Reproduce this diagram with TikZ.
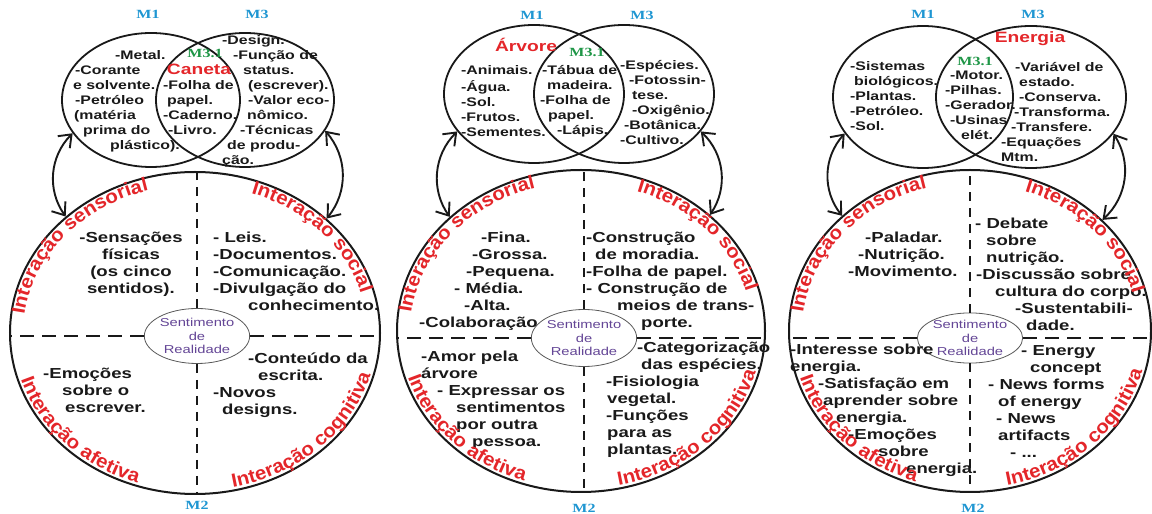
\documentclass[tikz,border=0pt]{standalone}
\usepackage{fontspec}
\setmainfont{Liberation Sans}[FakeStretch=1.28]
\newfontfamily\mserif{Liberation Serif}[FakeStretch=1.28]
\newfontfamily\curvefam{Liberation Sans}[FakeStretch=1.08]
\usetikzlibrary{shapes.geometric,arrows.meta,decorations.text}
\definecolor{lblred}{RGB}{228,38,42}
\definecolor{mblue}{RGB}{30,150,210}
\definecolor{mgreen}{RGB}{30,150,70}
\definecolor{purp}{RGB}{100,70,150}
\definecolor{ink}{RGB}{25,25,25}
\newcommand{\curvefont}{\curvefam\fontsize{19}{22}\selectfont\bfseries}
\newcommand{\qlabels}[6]{%
  \begin{scope}[shift={(#1,#2)}]
    \path[decorate,decoration={text along path,text align=left,text color=lblred,text={|\curvefont|Interação sensorial}}]
      (173:#3pt and #4pt) arc[start angle=173,end angle=30,x radius=#3pt,y radius=#4pt];
    \path[decorate,decoration={text along path,text align=left,text color=lblred,text={|\curvefont|Interação social}}]
      (71:#3pt and #4pt) arc[start angle=71,end angle=-70,x radius=#3pt,y radius=#4pt];
    \path[decorate,decoration={text along path,text align=left,text color=lblred,text={|\curvefont|Interação afetiva}}]
      (197:#5pt and #6pt) arc[start angle=197,end angle=330,x radius=#5pt,y radius=#6pt];
    \path[decorate,decoration={text along path,text align=left,text color=lblred,text={|\curvefont|Interação cognitiva}}]
      (282:#5pt and #6pt) arc[start angle=282,end angle=420,x radius=#5pt,y radius=#6pt];
  \end{scope}}
\begin{document}
\begin{tikzpicture}[x=1pt,y=1pt,
  venn/.style={ellipse, draw=ink, line width=1.8pt, inner sep=0pt},
  big/.style={ellipse, draw=ink, line width=2pt, inner sep=0pt},
  core/.style={ellipse, draw=black!65, line width=0.8pt, fill=white, inner sep=0pt, align=center, text=purp, font=\fontsize{11.5}{13.5}\selectfont},
  vtxt/.style={inner sep=0pt, anchor=north west, align=left, text=ink, font=\fontsize{12.4}{15}\selectfont\bfseries},
  btxt/.style={inner sep=0pt, anchor=north west, align=left, text=ink, font=\fontsize{14.5}{17}\selectfont\bfseries},
  mlab/.style={text=mblue, font=\mserif\fontsize{12.5}{14}\selectfont\bfseries, inner sep=0pt},
  mthree/.style={text=mgreen, font=\mserif\fontsize{12.5}{14}\selectfont\bfseries, inner sep=0pt},
  title/.style={text=lblred, font=\fontsize{15}{17}\selectfont\bfseries, inner sep=0pt},
  vdash/.style={draw=ink, line width=1.1pt, dash pattern=on 9pt off 7pt},
  hdash/.style={draw=ink, line width=1.1pt, dash pattern=on 14pt off 8pt},
  link/.style={draw=ink, line width=1.9pt, {Straight Barb[length=11pt,width=17pt]}-{Straight Barb[length=11pt,width=17pt]}},
]
\fill[white] (0,0) rectangle (1152,514);
\useasboundingbox (0,0) rectangle (1152,514);

% ---------------- Panel 1 ----------------
\node[venn, minimum width=178, minimum height=134] (L1) at (151,414) {};
\node[venn, minimum width=178, minimum height=134] (R1) at (245,414) {};
\node[mlab] (m1a) at (148,500) {M1};
\node[mlab] (m3a) at (257,500) {M3};
\node[mthree] (m31a) at (205,461) {M3.1};
\node[title] (t1) at (199,445) {Caneta};
\node[vtxt] (a1) at (73,465) {\strut\hspace*{42pt}-Metal.\\\hspace*{2pt}-Corante\\e solvente.\\\hspace*{2pt}-Petróleo\\\hspace*{1pt}(matéria\\\hspace*{10pt}prima do\\\hspace*{37pt}plástico).};
\node[vtxt] (b1) at (163,435) {\strut-Folha de\\\hspace*{4pt}papel.\\-Caderno.\\\hspace*{5pt}-Livro.};
\node[vtxt] (c1) at (222,480) {\strut-Design.\\\hspace*{11pt}-Função de\\\hspace*{21pt}status.\\\hspace*{26pt}(escrever).\\\hspace*{26pt}-Valor eco-\\\hspace*{25pt}nômico.\\\hspace*{18pt}-Técnicas\\\hspace*{5pt}de produ-\\ção.};

\node[big, minimum width=370, minimum height=322] (E1) at (195,181) {};
\node[core, minimum width=91, minimum height=55] (S1) at (197,178) {Sentimento\\de\\Realidade};
\draw[vdash] (S1.north) -- (S1.north |- E1.north);
\draw[vdash] (S1.south) -- (S1.south |- E1.south);
\draw[hdash] (S1.west) -- (S1.west -| E1.west);
\draw[hdash] (S1.east) -- (S1.east -| E1.east);
\node[btxt, anchor=north, align=center] (q1a) at (131,284) {\strut-Sensações\\físicas\\(os cinco\\sentidos).};
\node[btxt] (q1b) at (213,284) {\strut- Leis.\\-Documentos.\\-Comunicação.\\-Divulgação do\\\hspace*{35pt}conhecimento.};
\node[btxt] (q1c) at (43,148) {\strut-Emoções\\\hspace*{19pt}sobre o\\\hspace*{22pt}escrever.};
\node[btxt] (q1d) at (213,163) {\strut\hspace*{35pt}-Conteúdo da\\\hspace*{45pt}escrita.\\-Novos\\\hspace*{9pt}designs.};
\node[mlab] (m2a) at (197,9) {M2};
\qlabels{195}{181}{172}{148}{182}{158}
\draw[link] (L1.203) to[bend right=40] (E1.138);
\draw[link] (R1.339) to[bend left=40] (E1.41);

% ---------------- Panel 2 ----------------
\node[venn, minimum width=180, minimum height=138] (L2) at (534,420) {};
\node[venn, minimum width=180, minimum height=138] (R2) at (624,420) {};
\node[mlab] (m1b) at (532,499) {M1};
\node[mlab] (m3b) at (642,499) {M3};
\node[mthree] (m31b) at (587,462) {M3.1};
\node[title] (t2) at (526,469) {Árvore};
\node[vtxt] (a2) at (461,450) {\strut-Animais.\\-Água.\\-Sol.\\-Frutos.\\-Sementes.};
\node[vtxt] (b2) at (540,450) {\strut\hspace*{2pt}-Tábua de\\\hspace*{7pt}madeira.\\-Folha de\\\hspace*{8pt}papel.\\\hspace*{17pt}-Lápis.};
\node[vtxt] (c2) at (620,455) {\strut-Espécies.\\\hspace*{9pt}-Fotossin-\\\hspace*{12pt}tese.\\\hspace*{12pt}-Oxigênio.\\\hspace*{4pt}-Botânica.\\-Cultivo.};

\node[big, minimum width=368, minimum height=322] (E2) at (581,183) {};
\node[core, minimum width=91, minimum height=57] (S2) at (584,176) {Sentimento\\de\\Realidade};
\draw[vdash] (S2.north) -- (S2.north |- E2.north);
\draw[vdash] (S2.south) -- (S2.south |- E2.south);
\draw[hdash] (S2.west) -- (S2.west -| E2.west);
\draw[hdash] (S2.east) -- (S2.east -| E2.east);
\node[btxt] (q2a) at (419,284) {\strut\hspace*{62pt}-Fina.\\\hspace*{53pt}-Grossa.\\\hspace*{47pt}-Pequena.\\\hspace*{35pt}- Média.\\\hspace*{45pt}-Alta.\\-Colaboração};
\node[btxt] (q2b) at (586,284) {\strut-Construção\\\hspace*{9pt}de moradia.\\-Folha de papel.\\- Construção de\\\hspace*{31pt}meios de trans-\\\hspace*{55pt}porte.};
\node[btxt] (q2c) at (421,165) {\strut-Amor pela\\árvore\\\hspace*{16pt}- Expressar os\\\hspace*{35pt}sentimentos\\\hspace*{35pt}por outra\\\hspace*{51pt}pessoa.};
\node[btxt] (q2d) at (606,174) {\strut\hspace*{31pt}-Categorização\\\hspace*{35pt}das espécies.\\-Fisiologia\\\hspace*{1pt}vegetal.\\-Funções\\\hspace*{1pt}para as\\\hspace*{1pt}plantas.};
\node[mlab] (m2b) at (584,6) {M2};
\qlabels{581}{183}{171}{148}{181}{158}
\draw[link] (L2.206) to[bend right=40] (E2.139);
\draw[link] (R2.334) to[bend left=40] (E2.42);

% ---------------- Panel 3 ----------------
\node[venn, minimum width=180, minimum height=142] (L3) at (923,417) {};
\node[venn, minimum width=190, minimum height=142] (R3) at (1031,417) {};
\node[mlab] (m1c) at (923,500) {M1};
\node[mlab] (m3c) at (1033,500) {M3};
\node[mthree] (m31c) at (975,453) {M3.1};
\node[title] (t3) at (1030,475) {Energia};
\node[vtxt] (a3) at (850,454) {\strut-Sistemas\\\hspace*{4pt}biológicos.\\-Plantas.\\-Petróleo.\\-Sol.};
\node[vtxt] (b3) at (945,445) {\strut\hspace*{5pt}-Motor.\\-Pilhas.\\-Gerador.\\\hspace*{5pt}-Usinas\\\hspace*{16pt}elét.};
\node[vtxt] (c3) at (1001,453) {\strut\hspace*{14pt}-Variável de\\\hspace*{18pt}estado.\\\hspace*{18pt}-Conserva.\\\hspace*{13pt}-Transforma.\\\hspace*{10pt}-Transfere.\\-Equações\\Mtm.};

\node[big, minimum width=362, minimum height=322] (E3) at (970,183) {};
\node[core, minimum width=84, minimum height=50] (S3) at (970,176) {Sentimento\\de\\Realidade};
\draw[vdash] (S3.north) -- (S3.north |- E3.north);
\draw[vdash] (S3.south) -- (S3.south |- E3.south);
\draw[hdash] (S3.west) -- (S3.west -| E3.west);
\draw[hdash] (S3.east) -- (S3.east -| E3.east);
\node[btxt] (q3a) at (848,284) {\strut\hspace*{17pt}-Paladar.\\\hspace*{10pt}-Nutrição.\\-Movimento.};
\node[btxt] (q3b) at (975,298) {\strut- Debate\\\hspace*{11pt}sobre\\\hspace*{11pt}nutrição.\\\hspace*{1pt}-Discussão sobre\\\hspace*{20pt}cultura do corpo.\\\hspace*{40pt}-Sustentabili-\\\hspace*{51pt}dade.};
\node[btxt] (q3c) at (790,172) {\strut-Interesse sobre\\energia.\\\hspace*{28pt}-Satisfação em\\\hspace*{33pt}aprender sobre\\\hspace*{46pt}energia.\\\hspace*{58pt}-Emoções\\\hspace*{88pt}sobre\\\hspace*{116pt}energia.};
\node[btxt] (q3d) at (988,171) {\strut\hspace*{33pt}- Energy\\\hspace*{42pt}concept\\- News forms\\\hspace*{10pt}of energy\\\hspace*{8pt}- News\\\hspace*{10pt}artifacts\\\hspace*{22pt}- ...};
\node[mlab] (m2c) at (973,6) {M2};
\qlabels{970}{183}{168}{148}{178}{158}
\draw[link] (L3.205) to[bend right=40] (E3.138);
\draw[link] (R3.336) to[bend left=40] (E3.40);
\end{tikzpicture}
\end{document}
